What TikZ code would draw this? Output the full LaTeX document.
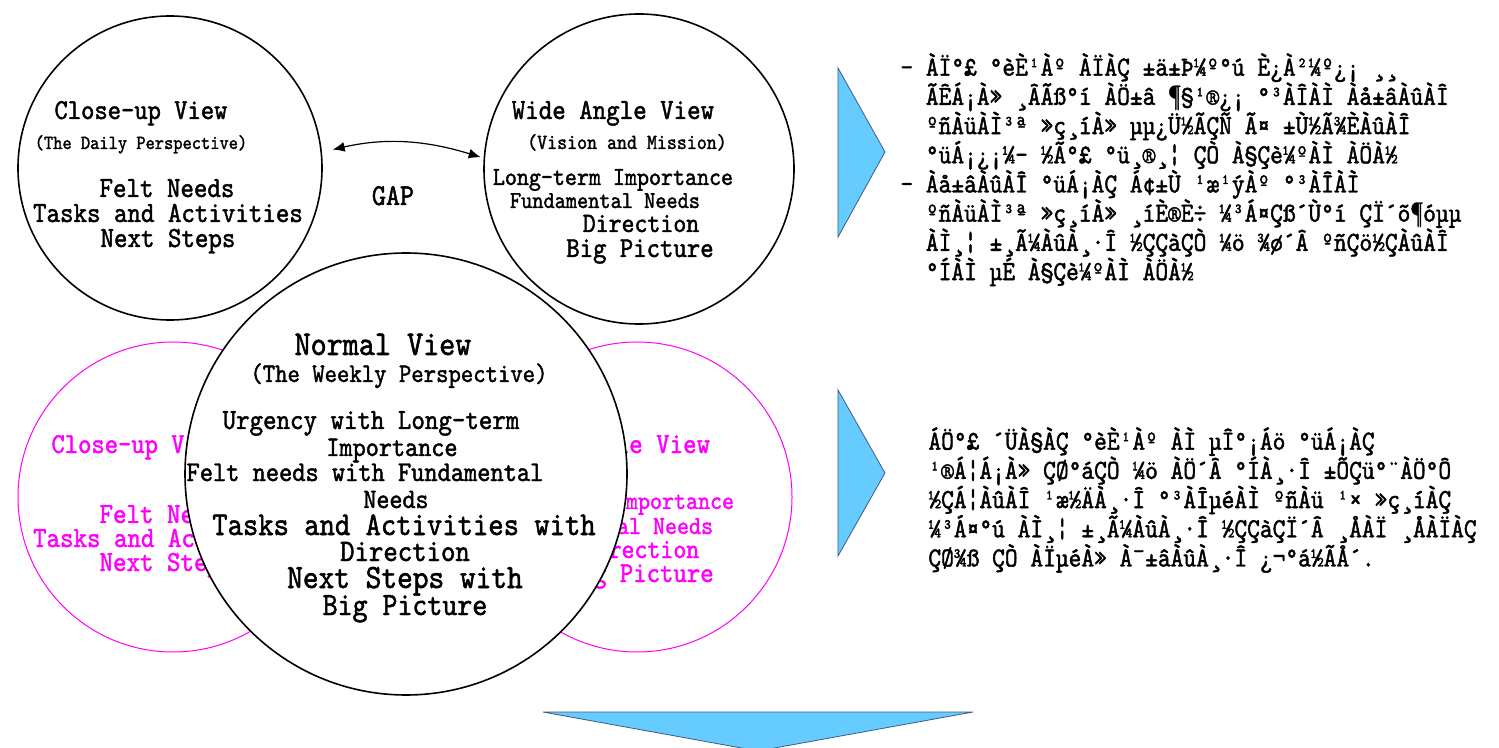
\documentclass[tikz,border=0pt]{standalone}
\usepackage{fontspec}
\usetikzlibrary{arrows.meta}
\newfontfamily\viewfont{lmmono10-regular.otf}[FakeBold=1.5, FakeStretch=0.88]
\definecolor{viewpink}{RGB}{255,0,255}
\definecolor{arrowblue}{RGB}{102,204,255}
\definecolor{arrowedge}{RGB}{60,90,130}
\newcommand{\viewsize}[1]{\viewfont\fontsize{#1}{#1}\selectfont}

\begin{document}
\begin{tikzpicture}[
  x=0.5pt, y=-0.5pt,
  view/.style={circle, draw, line width=0.8pt, fill=white,
    minimum size=#1, inner sep=0pt},
  pinkview/.style={circle, draw=viewpink, line width=0.5pt, fill=white,
    minimum size=155pt, inner sep=0pt},
  vline/.style={font=\viewsize{#1}, inner sep=0pt, text height=9pt, text depth=0pt},
  pinkline/.style={vline=#1, text=viewpink},
  notes/.style={font=\viewfont\fontsize{13.8}{14.6}\selectfont, inner sep=0pt,
    align=left, anchor=north west},
  gaparrow/.style={{Latex[length=6pt,width=5pt]}-{Latex[length=6pt,width=5pt]},
    line width=0.6pt},
  bluearrow/.style={fill=arrowblue, draw=arrowedge, line width=0.4pt},
]
\useasboundingbox (0,0) rectangle (1499,748);
\clip (0,0) rectangle (1499,748);

% Daily view (top left)
\node[view=152pt] (closeview) at (170,168) {};
\node[vline=14.4] (cvtitle) at (141,110) {Close-up View};
\node[vline=10] (cvsub) at (141,140) {(The Daily Perspective)};
\node[vline=14.6] (cvfelt) at (167,188) {Felt Needs};
\node[vline=14.6] (cvtasks) at (168,213) {Tasks and Activities};
\node[vline=14.6] (cvnext) at (168,238) {Next Steps};

% Vision view (top right)
\node[view=155pt] (wideview) at (639,169) {};
\node[vline=14.6] (wvtitle) at (613,110) {Wide Angle View};
\node[vline=10.8] (wvsub) at (627,140) {(Vision and Mission)};
\node[vline=13] (wvlong) at (613,176) {Long-term Importance};
\node[vline=12.1] (wvfund) at (605,199) {Fundamental Needs};
\node[vline=14] (wvdir) at (641,223) {Direction};
\node[vline=14.5] (wvbig) at (640,248) {Big Picture};

% Gap between the two views
\draw[gaparrow, shorten <=5.5pt, shorten >=1.5pt]
  (closeview.6) to[bend left=15] (wideview.176);
\node[vline=15.2] (gap) at (393,196) {GAP};

% Faded views behind the weekly view
\node[pinkview] (closepink) at (173,497) {};
\node[pinkline=14.4] (cptitle) at (138,444) {Close-up View};
\node[pinkline=14.6] (cpfelt) at (167,514) {Felt Needs};
\node[pinkline=14.6] (cptasks) at (168,538) {Tasks and Activities};
\node[pinkline=14.6] (cpnext) at (167,562) {Next Steps};

\node[pinkview] (widepink) at (637,497) {};
\node[pinkline=14.6] (wptitle) at (609,444) {Wide Angle View};
\node[pinkline=13] (wplong) at (614,500) {Long-term Importance};
\node[pinkline=13] (wpfund) at (611,525) {Fundamental Needs};
\node[pinkline=14] (wpdir) at (641,549) {Direction};
\node[pinkline=14.5] (wpbig) at (640,573) {Big Picture};

% Weekly view
\node[view=221pt] (normalview) at (406,474) {};
\node[vline=17.4] (nvtitle) at (383,346) {Normal View};
\node[vline=13.4] (nvsub) at (399,373) {(The Weekly Perspective)};
\node[vline=14.6] (nvurg) at (371,420) {Urgency with Long-term};
\node[vline=14.2] (nvimp) at (392,447) {Importance};
\node[vline=14.3] (nvfelt) at (365,472) {Felt needs with Fundamental};
\node[vline=14.1] (nvneeds) at (396,499) {Needs};
\node[vline=16.6] (nvtasks) at (404,526) {Tasks and Activities with};
\node[vline=15.6] (nvdir) at (405,552) {Direction};
\node[vline=17] (nvnext) at (405,579) {Next Steps with};
\node[vline=16.2] (nvbig) at (405,606) {Big Picture};

% Blue arrows
\filldraw[bluearrow] (838,68) -- (885,152) -- (838,237) -- cycle;
\filldraw[bluearrow] (838,390) -- (885,473) -- (838,556) -- cycle;
\filldraw[bluearrow] (543,712) -- (973,712) -- (758,751) -- cycle;

% Notes
\node[notes] (dailynotes) at (900,53)
  {- ÀÏ°£ °èÈ¹Àº ÀÏÀÇ ±ä±Þ¼º°ú È¿À²¼º¿¡ ¸¸\\
   \phantom{-\ }ÃÊÁ¡À» ¸ÂÃß°í ÀÖ±â ¶§¹®¿¡ °³ÀÎÀÌ Àå±âÀûÀÎ\\
   \phantom{-\ }ºñÀüÀÌ³ª »ç¸íÀ» µµ¿Ü½ÃÇÑ Ã¤ ±Ù½Ã¾ÈÀûÀÎ\\
   \phantom{-\ }°üÁ¡¿¡¼- ½Ã°£ °ü¸®¸¦ ÇÒ À§Çè¼ºÀÌ ÀÖÀ½\\
   - Àå±âÀûÀÎ °üÁ¡ÀÇ Á¢±Ù ¹æ¹ýÀº °³ÀÎÀÌ\\
   \phantom{-\ }ºñÀüÀÌ³ª »ç¸íÀ» ¸íÈ®È÷ ¼³Á¤Çß´Ù°í ÇÏ´õ¶óµµ\\
   \phantom{-\ }ÀÌ¸¦ ±¸Ã¼ÀûÀ¸·Î ½ÇÇàÇÒ ¼ö ¾ø´Â ºñÇö½ÇÀûÀÎ\\
   \phantom{-\ }°ÍÀÌ µÉ À§Çè¼ºÀÌ ÀÖÀ½};
\node[notes] (weeklynotes) at (928,427)
  {ÁÖ°£ ´ÜÀ§ÀÇ °èÈ¹Àº ÀÌ µÎ°¡Áö °üÁ¡ÀÇ\\
   ¹®Á¦Á¡À» ÇØ°áÇÒ ¼ö ÀÖ´Â °ÍÀ¸·Î ±ÕÇü°¨ÀÖ°Ô\\
   ½ÇÁ¦ÀûÀÎ ¹æ½ÄÀ¸·Î °³ÀÎµéÀÌ ºñÀü ¹× »ç¸íÀÇ\\
   ¼³Á¤°ú ÀÌ¸¦ ±¸Ã¼ÀûÀ¸·Î ½ÇÇàÇÏ´Â ¸ÅÀÏ ¸ÅÀÏÀÇ\\
   ÇØ¾ß ÇÒ ÀÏµéÀ» À¯±âÀûÀ¸·Î ¿¬°á½ÃÅ´.};

\end{tikzpicture}
\end{document}
